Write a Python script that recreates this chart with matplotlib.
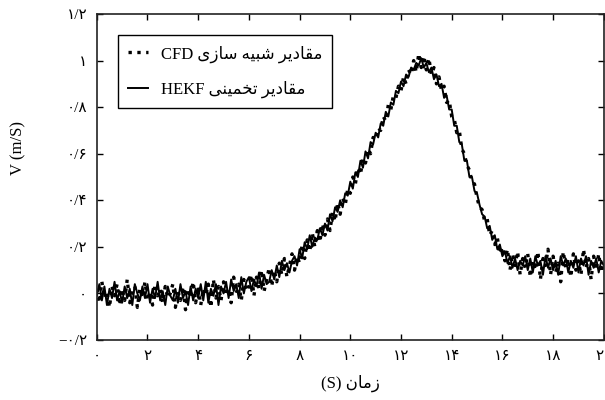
import numpy as np
import matplotlib
matplotlib.use("Agg")
import matplotlib.pyplot as plt
from matplotlib.font_manager import FontProperties

# time axis, 0.1 s steps
t = np.arange(0, 201) / 10.0

# CFD simulation values (dotted)
v_cfd = [
    0.02, -0.04, 0.05, -0.02, 0.01, -0.06, 0.03, -0.01, 0.04, -0.05,
    0.02, -0.03, 0.06, -0.04, 0.00, 0.03, -0.06, 0.02, -0.02, 0.05,
    -0.03, 0.01, -0.05, 0.04, -0.01, 0.02, -0.04, 0.03, -0.02, 0.00,
    0.04, -0.06, 0.01, -0.03, 0.03, -0.07, 0.02, -0.02, 0.05, -0.04,
    0.03, -0.05, 0.02, -0.01, 0.04, -0.06, 0.06, -0.02, 0.03, -0.03,
    0.05, -0.01, 0.02, -0.04, 0.07, 0.00, 0.04, -0.03, 0.06, 0.01,
    0.03, 0.08, -0.01, 0.07, 0.02, 0.10, 0.01, 0.06, 0.11, 0.03,
    0.10, 0.05, 0.13, 0.08, 0.15, 0.07, 0.12, 0.17, 0.10, 0.16,
    0.13, 0.21, 0.15, 0.23, 0.18, 0.26, 0.20, 0.27, 0.22, 0.30,
    0.25, 0.32, 0.27, 0.35, 0.31, 0.39, 0.34, 0.41, 0.38, 0.45,
    0.43, 0.50, 0.47, 0.54, 0.51, 0.58, 0.56, 0.62, 0.60, 0.67,
    0.66, 0.71, 0.70, 0.76, 0.74, 0.81, 0.79, 0.85, 0.84, 0.89,
    0.87, 0.93, 0.90, 0.96, 0.94, 1.00, 0.95, 1.03, 0.97, 1.02,
    0.96, 1.01, 0.94, 0.97, 0.90, 0.93, 0.87, 0.89, 0.82, 0.83,
    0.76, 0.75, 0.69, 0.70, 0.62, 0.60, 0.55, 0.53, 0.48, 0.47,
    0.41, 0.37, 0.36, 0.31, 0.32, 0.25, 0.27, 0.21, 0.24, 0.17,
    0.20, 0.14, 0.19, 0.10, 0.17, 0.12, 0.18, 0.08, 0.15, 0.11,
    0.17, 0.07, 0.14, 0.10, 0.18, 0.06, 0.15, 0.12, 0.19, 0.08,
    0.16, 0.09, 0.13, 0.05, 0.18, 0.11, 0.15, 0.07, 0.17, 0.10,
    0.14, 0.08, 0.19, 0.11, 0.15, 0.06, 0.16, 0.10, 0.17, 0.09,
    0.13,
]

# HEKF estimated values (solid)
v_hekf = [
    -0.01, 0.04, -0.03, 0.03, -0.05, 0.02, -0.02, 0.05, -0.03, 0.01,
    -0.04, 0.03, -0.02, 0.02, -0.05, 0.04, 0.00, -0.03, 0.03, -0.02,
    0.04, -0.04, 0.02, -0.02, 0.05, -0.03, 0.01, -0.05, 0.03, -0.01,
    -0.03, 0.02, -0.04, 0.04, -0.02, 0.01, -0.05, 0.03, -0.03, 0.02,
    -0.02, 0.04, -0.03, 0.05, -0.04, 0.02, -0.01, 0.04, -0.05, 0.03,
    0.00, 0.05, -0.02, 0.06, 0.01, 0.04, -0.02, 0.07, 0.00, 0.05,
    0.07, 0.01, 0.06, 0.03, 0.09, 0.02, 0.08, 0.04, 0.05, 0.10,
    0.06, 0.12, 0.07, 0.14, 0.10, 0.13, 0.09, 0.14, 0.16, 0.12,
    0.19, 0.15, 0.22, 0.19, 0.25, 0.20, 0.24, 0.23, 0.28, 0.25,
    0.30, 0.27, 0.34, 0.31, 0.37, 0.35, 0.40, 0.37, 0.43, 0.42,
    0.48, 0.45, 0.52, 0.50, 0.57, 0.54, 0.61, 0.58, 0.65, 0.64,
    0.69, 0.67, 0.73, 0.72, 0.78, 0.76, 0.82, 0.81, 0.87, 0.86,
    0.91, 0.89, 0.94, 0.93, 0.97, 0.96, 0.99, 0.98, 1.01, 0.97,
    0.99, 0.95, 0.97, 0.92, 0.94, 0.89, 0.90, 0.84, 0.85, 0.79,
    0.79, 0.72, 0.72, 0.65, 0.64, 0.57, 0.57, 0.50, 0.50, 0.44,
    0.43, 0.38, 0.34, 0.33, 0.28, 0.29, 0.23, 0.25, 0.19, 0.21,
    0.16, 0.18, 0.13, 0.16, 0.11, 0.15, 0.10, 0.14, 0.12, 0.16,
    0.10, 0.15, 0.09, 0.16, 0.12, 0.14, 0.08, 0.16, 0.11, 0.15,
    0.10, 0.14, 0.08, 0.16, 0.12, 0.15, 0.09, 0.14, 0.11, 0.16,
    0.09, 0.15, 0.12, 0.16, 0.08, 0.14, 0.11, 0.15, 0.09, 0.14,
    0.12,
]

x_ticks = [0, 2, 4, 6, 8, 10, 12, 14, 16, 18, 20]
y_ticks = [-0.2, 0, 0.2, 0.4, 0.6, 0.8, 1.0, 1.2]

label_cfd = "مقادیر شبیه سازی"
label_hekf = "مقادیر تخمینی"
x_word = "زمان"

# arabic presentation forms: isolated, final, initial, medial
FORMS = {
    "ا": ("\uFE8D", "\uFE8E", None, None),
    "ب": ("\uFE8F", "\uFE90", "\uFE91", "\uFE92"),
    "ت": ("\uFE95", "\uFE96", "\uFE97", "\uFE98"),
    "خ": ("\uFEA5", "\uFEA6", "\uFEA7", "\uFEA8"),
    "د": ("\uFEA9", "\uFEAA", None, None),
    "ر": ("\uFEAD", "\uFEAE", None, None),
    "ز": ("\uFEAF", "\uFEB0", None, None),
    "س": ("\uFEB1", "\uFEB2", "\uFEB3", "\uFEB4"),
    "ش": ("\uFEB5", "\uFEB6", "\uFEB7", "\uFEB8"),
    "ق": ("\uFED5", "\uFED6", "\uFED7", "\uFED8"),
    "م": ("\uFEE1", "\uFEE2", "\uFEE3", "\uFEE4"),
    "ن": ("\uFEE5", "\uFEE6", "\uFEE7", "\uFEE8"),
    "ه": ("\uFEE9", "\uFEEA", "\uFEEB", "\uFEEC"),
    "ی": ("\uFEEF", "\uFEF0", "\uFEF3", "\uFEF4"),
}


def rtl(s):
    # crude shaping + reversing, matplotlib has no bidi support
    out = []
    for i, c in enumerate(s):
        if c not in FORMS:
            out.append(c)
            continue
        prev = s[i - 1] if i > 0 else None
        nxt = s[i + 1] if i + 1 < len(s) else None
        jp = prev in FORMS and FORMS[prev][2] is not None
        jn = FORMS[c][2] is not None and nxt in FORMS
        iso, fin, ini, med = FORMS[c]
        if jp and jn:
            out.append(med)
        elif jp:
            out.append(fin)
        elif jn:
            out.append(ini)
        else:
            out.append(iso)
    return "".join(reversed(out))


FA_DIGITS = str.maketrans("0123456789", "۰۱۲۳۴۵۶۷۸۹")


def fa_num(v):
    s = "%g" % round(v, 2)
    return s.replace("-", "\u2212").replace(".", "/").translate(FA_DIGITS)


fams = ["Liberation Serif", "DejaVu Sans"]

fig = plt.figure(figsize=(6.05, 4.0), dpi=100)
ax = fig.add_axes([0.160, 0.15, 0.838, 0.815])

ax.plot(t, v_cfd, color="black", linestyle=":", linewidth=2.4,
        label="CFD " + rtl(label_cfd))
ax.plot(t, v_hekf, color="black", linestyle="-", linewidth=1.4,
        label="HEKF " + rtl(label_hekf))

ax.set_xlim(0, 20)
ax.set_ylim(-0.2, 1.2)
ax.set_xticks(x_ticks)
ax.set_yticks(y_ticks)
ax.set_xticklabels([fa_num(v) for v in x_ticks], family=fams, fontsize=11)
ax.set_yticklabels([fa_num(v) for v in y_ticks], family=fams, fontsize=11)
ax.tick_params(direction="in", top=True, right=True, length=4, width=1, pad=7)
for sp in ax.spines.values():
    sp.set_linewidth(1.2)
    sp.set_color("#222222")

fig.text(350 / 605, 1 - 383 / 400, "(S) " + rtl(x_word), family=fams,
         fontsize=12, ha="center", va="center")
fig.text(18 / 605, 1 - 148 / 400, "V (m/S)", family=fams, fontsize=12,
         rotation=90, ha="center", va="center")

leg = ax.legend(loc="upper left", bbox_to_anchor=(0.041, 0.935),
                borderaxespad=0,
                prop=FontProperties(family=fams, size=12),
                handlelength=1.2, handletextpad=0.8, labelspacing=1.1,
                borderpad=0.6, fancybox=False, framealpha=1)
leg.get_frame().set_edgecolor("black")
leg.get_frame().set_linewidth(1.0)

fig.savefig("out.png", dpi=100)
